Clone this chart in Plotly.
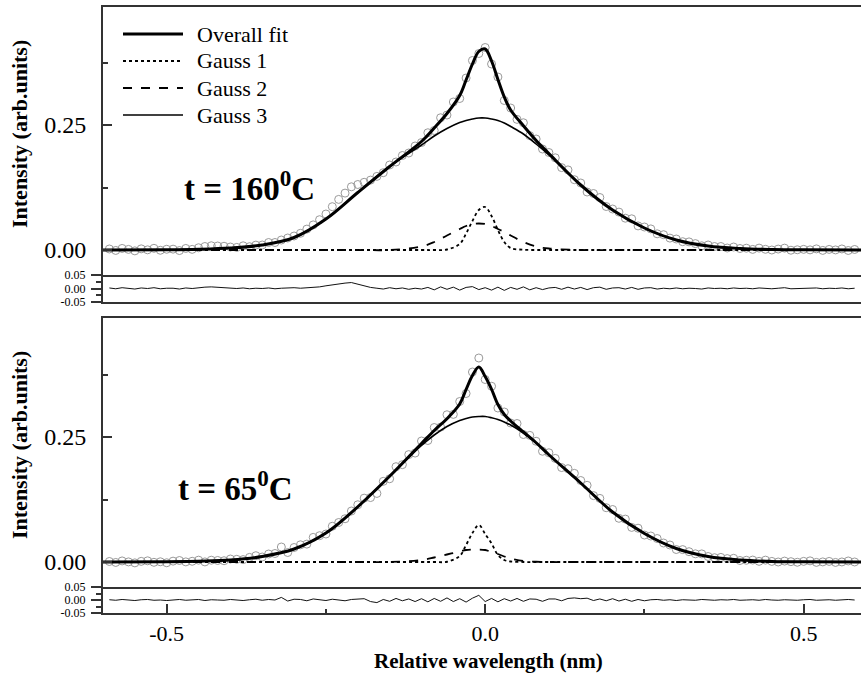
import numpy as np
import plotly.graph_objects as go

# ---------------- data ----------------
# wavelength grid at which the fitted curves were read off
x_fit = [-0.6, -0.5, -0.45, -0.4, -0.35, -0.3, -0.25, -0.2, -0.15, -0.1, -0.08, -0.06, -0.04, -0.03,
         -0.02, -0.01, 0.0, 0.01, 0.02, 0.03, 0.04, 0.06, 0.08, 0.1, 0.15, 0.2, 0.25, 0.3, 0.35, 0.4,
         0.45, 0.5, 0.59]

# t = 160 C
overall_160 = [0.0, 0.0005, 0.0015, 0.004, 0.010, 0.025, 0.062, 0.115, 0.167, 0.217, 0.244, 0.273, 0.309,
               0.340, 0.372, 0.397, 0.402, 0.378, 0.341, 0.306, 0.280, 0.2485, 0.219, 0.193, 0.130, 0.080,
               0.044, 0.020, 0.008, 0.003, 0.001, 0.0003, 0.0]
gauss1_160 = [0.0, 0.0, 0.0, 0.0, 0.0, 0.0, 0.0, 0.0, 0.0, 0.0, 0.0, 0.001, 0.012, 0.033, 0.058, 0.080,
              0.086, 0.068, 0.040, 0.016, 0.004, 0.0005, 0.0, 0.0, 0.0, 0.0, 0.0, 0.0, 0.0, 0.0, 0.0, 0.0, 0.0]
gauss2_160 = [0.0, 0.0, 0.0, 0.0, 0.0, 0.0, 0.0, 0.0, 0.0, 0.007, 0.016, 0.029, 0.042, 0.048, 0.052, 0.053,
              0.052, 0.048, 0.042, 0.036, 0.029, 0.016, 0.007, 0.003, 0.0, 0.0, 0.0, 0.0, 0.0, 0.0, 0.0, 0.0, 0.0]
gauss3_160 = [0.0, 0.0005, 0.0015, 0.004, 0.010, 0.025, 0.062, 0.115, 0.167, 0.210, 0.228, 0.243, 0.255,
              0.259, 0.262, 0.264, 0.264, 0.262, 0.259, 0.254, 0.247, 0.232, 0.212, 0.190, 0.130, 0.080,
              0.044, 0.020, 0.008, 0.003, 0.001, 0.0003, 0.0]

# t = 65 C
overall_65 = [0.0, 0.0005, 0.0017, 0.004, 0.011, 0.026, 0.058, 0.1105, 0.1715, 0.237, 0.263, 0.2865, 0.316,
              0.345, 0.373, 0.390, 0.371, 0.3455, 0.315, 0.295, 0.282, 0.260, 0.2385, 0.2145, 0.158, 0.100,
              0.057, 0.027, 0.011, 0.004, 0.0012, 0.0003, 0.0]
gauss1_65 = [0.0, 0.0, 0.0, 0.0, 0.0, 0.0, 0.0, 0.0, 0.0, 0.0, 0.0, 0.0005, 0.012, 0.034, 0.058, 0.074,
             0.056, 0.037, 0.014, 0.004, 0.001, 0.0, 0.0, 0.0, 0.0, 0.0, 0.0, 0.0, 0.0, 0.0, 0.0, 0.0, 0.0]
gauss2_65 = [0.0, 0.0, 0.0, 0.0, 0.0, 0.0, 0.0, 0.0, 0.0, 0.004, 0.009, 0.015, 0.021, 0.024, 0.025, 0.025,
             0.024, 0.020, 0.016, 0.011, 0.007, 0.002, 0.0005, 0.0, 0.0, 0.0, 0.0, 0.0, 0.0, 0.0, 0.0, 0.0, 0.0]
gauss3_65 = [0.0, 0.0005, 0.0017, 0.004, 0.011, 0.026, 0.058, 0.1105, 0.1715, 0.233, 0.254, 0.271, 0.283,
             0.287, 0.290, 0.291, 0.291, 0.2885, 0.285, 0.280, 0.274, 0.258, 0.238, 0.2145, 0.158, 0.100,
             0.057, 0.027, 0.011, 0.004, 0.0012, 0.0003, 0.0]

# measured spectrum sampling positions
x_data = [-0.59, -0.58, -0.57, -0.56, -0.55, -0.54, -0.53, -0.52, -0.51, -0.50,
          -0.49, -0.48, -0.47, -0.46, -0.45, -0.44, -0.43, -0.42, -0.41, -0.40,
          -0.39, -0.38, -0.37, -0.36, -0.35, -0.34, -0.33, -0.32, -0.31, -0.30,
          -0.29, -0.28, -0.27, -0.26, -0.25, -0.24, -0.23, -0.22, -0.21, -0.20,
          -0.19, -0.18, -0.17, -0.16, -0.15, -0.14, -0.13, -0.12, -0.11, -0.10,
          -0.09, -0.08, -0.07, -0.06, -0.05, -0.04, -0.03, -0.02, -0.01, 0.00,
          0.01, 0.02, 0.03, 0.04, 0.05, 0.06, 0.07, 0.08, 0.09, 0.10,
          0.11, 0.12, 0.13, 0.14, 0.15, 0.16, 0.17, 0.18, 0.19, 0.20,
          0.21, 0.22, 0.23, 0.24, 0.25, 0.26, 0.27, 0.28, 0.29, 0.30,
          0.31, 0.32, 0.33, 0.34, 0.35, 0.36, 0.37, 0.38, 0.39, 0.40,
          0.41, 0.42, 0.43, 0.44, 0.45, 0.46, 0.47, 0.48, 0.49, 0.50,
          0.51, 0.52, 0.53, 0.54, 0.55, 0.56, 0.57, 0.58]

# fit residuals (data - overall fit)
resid_160 = [0.002, -0.001, 0.003, 0.001, -0.002, 0.002, 0.000, 0.003, -0.001, 0.001,
             0.001, -0.002, 0.002, 0.000, 0.003, 0.005, 0.006, 0.005, 0.004, 0.002,
             0.000, 0.002, -0.001, 0.001, 0.000, 0.002, -0.001, 0.001, 0.002, 0.003,
             0.001, 0.002, 0.003, 0.006, 0.010, 0.014, 0.018, 0.020, 0.022, 0.016,
             0.010, 0.004, 0.001, -0.002, 0.003, -0.001, 0.002, -0.003, 0.001, -0.002,
             0.004, -0.005, 0.006, -0.003, 0.005, -0.006, 0.004, 0.007, -0.004, 0.003,
             -0.006, 0.005, -0.007, 0.004, -0.003, 0.006, -0.005, 0.003, -0.004, 0.002,
             0.004, -0.003, 0.005, -0.002, 0.004, -0.004, 0.003, 0.005, -0.003, 0.002,
             0.003, -0.002, 0.004, -0.003, 0.002, 0.003, -0.002, 0.001, -0.001, 0.002,
             -0.001, 0.001, 0.000, -0.002, 0.002, 0.000, 0.001, -0.001, 0.002, 0.000,
             0.001, -0.001, 0.002, 0.000, -0.001, 0.001, 0.003, -0.001, 0.000, 0.001,
             0.000, 0.002, -0.001, 0.001, 0.000, 0.002, -0.001, 0.001]
resid_65 = [0.001, -0.001, 0.002, 0.000, -0.002, 0.001, 0.002, -0.001, 0.000, -0.002,
            0.001, 0.002, -0.001, 0.000, 0.002, -0.002, 0.001, 0.000, -0.001, 0.002,
            0.000, -0.002, 0.001, 0.003, -0.001, 0.002, 0.000, 0.010, -0.004, 0.003,
            0.002, -0.003, 0.004, 0.001, -0.002, 0.003, 0.000, -0.003, 0.002, 0.004,
            0.005, -0.006, -0.010, 0.002, -0.005, 0.006, -0.003, 0.004, -0.006, 0.005,
            -0.007, 0.006, -0.005, 0.008, -0.006, 0.005, -0.008, 0.007, 0.018, -0.006,
            0.006, -0.007, 0.005, -0.004, 0.006, -0.005, 0.004, 0.003, -0.005, 0.004,
            0.004, -0.003, 0.006, 0.008, 0.005, 0.007, -0.002, 0.004, -0.003, 0.005,
            -0.004, 0.003, -0.005, 0.002, -0.003, 0.001, 0.002, -0.001, 0.001, -0.002,
            0.001, 0.000, -0.001, 0.002, 0.000, -0.001, 0.001, 0.000, 0.002, -0.001,
            0.000, 0.001, -0.001, 0.002, 0.000, -0.001, 0.001, 0.000, -0.001, 0.001,
            0.002, -0.001, 0.000, 0.001, -0.001, 0.000, 0.002, 0.000]

x_tick_vals = [-0.5, 0.0, 0.5]
x_tick_text = ["-0.5", "0.0", "0.5"]
y_tick_vals = [0.0, 0.25]
y_tick_text = ["0.00", "0.25"]
r_tick_vals = [-0.05, 0.0, 0.05]
r_tick_text = ["-0.05", "0.00", "0.05"]

# measured points = overall fit + residual
data_160 = np.interp(x_data, x_fit, overall_160) + np.array(resid_160)
data_65 = np.interp(x_data, x_fit, overall_65) + np.array(resid_65)

# ---------------- figure ----------------
W, H = 861, 674
L, R, T, B = 103, 861, 7, 613
PW, PH = R - L, B - T


def px(x):
    return (x - L) / PW


def py(y):
    return (B - y) / PH


SERIF = "Liberation Serif, Times New Roman, serif"
AX = "#333333"
fig = go.Figure()

panels = [
    ("x", "y", "x2", "y2", data_160, overall_160, gauss1_160, gauss2_160, gauss3_160, resid_160),
    ("x3", "y3", "x4", "y4", data_65, overall_65, gauss1_65, gauss2_65, gauss3_65, resid_65),
]
for xa, ya, xr, yr, dat, ov, g1, g2, g3, res in panels:
    fig.add_trace(go.Scatter(x=x_data, y=dat, xaxis=xa, yaxis=ya, mode="markers",
                             marker=dict(symbol="circle-open", size=8, color="#9a9a9a",
                                         line=dict(width=1, color="#9a9a9a")),
                             showlegend=False))
    fig.add_trace(go.Scatter(x=x_fit, y=g3, xaxis=xa, yaxis=ya, mode="lines", name="Gauss 3",
                             line=dict(color="black", width=1.6, shape="spline"), showlegend=False))
    fig.add_trace(go.Scatter(x=x_fit, y=g2, xaxis=xa, yaxis=ya, mode="lines", name="Gauss 2",
                             line=dict(color="black", width=1.8, dash="dash", shape="spline"),
                             showlegend=False))
    fig.add_trace(go.Scatter(x=x_fit, y=g1, xaxis=xa, yaxis=ya, mode="lines", name="Gauss 1",
                             line=dict(color="black", width=1.8, dash="dot", shape="spline"),
                             showlegend=False))
    fig.add_trace(go.Scatter(x=x_fit, y=ov, xaxis=xa, yaxis=ya, mode="lines", name="Overall fit",
                             line=dict(color="black", width=3, shape="spline"), showlegend=False))
    fig.add_trace(go.Scatter(x=x_data, y=res, xaxis=xr, yaxis=yr, mode="lines",
                             line=dict(color="#111111", width=1), showlegend=False))

xcommon = dict(range=[-0.6, 0.59], showline=True, linecolor=AX, linewidth=2,
               showgrid=False, zeroline=False)
fig.update_layout(
    width=W, height=H,
    margin=dict(l=L, r=W - R, t=T, b=H - B),
    paper_bgcolor="white", plot_bgcolor="white",
    font=dict(family=SERIF, color="black"),
    xaxis=dict(**xcommon, anchor="y", mirror=True, ticks="", showticklabels=False),
    xaxis2=dict(**xcommon, anchor="y2", mirror=False, matches="x", ticks="", showticklabels=False),
    xaxis3=dict(**xcommon, anchor="y3", mirror=True, matches="x", ticks="", showticklabels=False),
    xaxis4=dict(**xcommon, anchor="y4", mirror=False, matches="x", ticks="inside", ticklen=9,
                tickwidth=1.5, tickcolor=AX, tickmode="array", tickvals=x_tick_vals,
                ticktext=x_tick_text, tickfont=dict(size=22, family=SERIF), ticklabelstandoff=0,
                minor=dict(tickmode="array", tickvals=[-0.25, 0.25], ticks="inside", ticklen=4,
                           tickwidth=1.5, tickcolor=AX)),
)
ymain = dict(showline=True, linecolor=AX, linewidth=2, mirror=False, showgrid=False, zeroline=False,
             ticks="inside", ticklen=9, tickwidth=1.5, tickcolor=AX, tickmode="array",
             tickvals=y_tick_vals, ticktext=y_tick_text, tickfont=dict(size=24, family=SERIF),
             ticklabelstandoff=10,
             minor=dict(tickmode="array", tickvals=[0.125, 0.375], ticks="inside", ticklen=5,
                        tickwidth=1.5, tickcolor=AX))
yres = dict(showline=True, linecolor=AX, linewidth=2, mirror=False, showgrid=False, zeroline=False,
            range=[-0.05, 0.05], ticks="outside", ticklen=10, tickwidth=1.5, tickcolor=AX,
            tickmode="array", tickvals=r_tick_vals, ticktext=r_tick_text,
            tickfont=dict(size=12, family=SERIF), ticklabelstandoff=3,
            minor=dict(tickmode="array", tickvals=[-0.025, 0.025], ticks="outside", ticklen=5,
                       tickwidth=1.5, tickcolor=AX))
fig.update_layout(
    yaxis=dict(**ymain, domain=[py(275), 1.0], range=[-0.05, 0.486], anchor="x"),
    yaxis2=dict(**yres, domain=[py(302), py(275)], anchor="x2"),
    yaxis3=dict(**ymain, domain=[py(587), py(318)], range=[-0.05, 0.488], anchor="x3"),
    yaxis4=dict(**yres, domain=[0.0, py(587)], anchor="x4"),
)

# legend drawn as sample lines + labels
legend_items = [("Overall fit", dict(width=3, dash="solid")),
                ("Gauss 1", dict(width=1.8, dash="dot")),
                ("Gauss 2", dict(width=1.8, dash="dash")),
                ("Gauss 3", dict(width=1.6, dash="solid"))]
for i, (label, ls) in enumerate(legend_items):
    yy = 34 + 27 * i
    fig.add_shape(type="line", xref="paper", yref="paper", x0=px(123), x1=px(183), y0=py(yy), y1=py(yy),
                  line=dict(color="black", **ls))
    fig.add_annotation(xref="paper", yref="paper", x=px(195), y=py(yy), text=label, showarrow=False,
                       xanchor="left", yanchor="middle", font=dict(size=22, family=SERIF))

# temperature labels
fig.add_annotation(xref="paper", yref="paper", x=px(182), y=py(186), text="<b>t = 160<sup>0</sup>C</b>",
                   showarrow=False, xanchor="left", yanchor="middle", font=dict(size=33, family=SERIF))
fig.add_annotation(xref="paper", yref="paper", x=px(176), y=py(486), text="<b>t = 65<sup>0</sup>C</b>",
                   showarrow=False, xanchor="left", yanchor="middle", font=dict(size=33, family=SERIF))

# axis titles
for yc in (134, 445):
    fig.add_annotation(xref="paper", yref="paper", x=px(19), y=py(yc), text="<b>Intensity (arb.units)</b>",
                       showarrow=False, textangle=-90, xanchor="center", yanchor="middle",
                       font=dict(size=22, family=SERIF))
fig.add_annotation(xref="paper", yref="paper", x=px(488), y=py(661), text="<b>Relative wavelength (nm)</b>",
                   showarrow=False, xanchor="center", yanchor="middle", font=dict(size=21, family=SERIF))

fig.write_html("out.html")
